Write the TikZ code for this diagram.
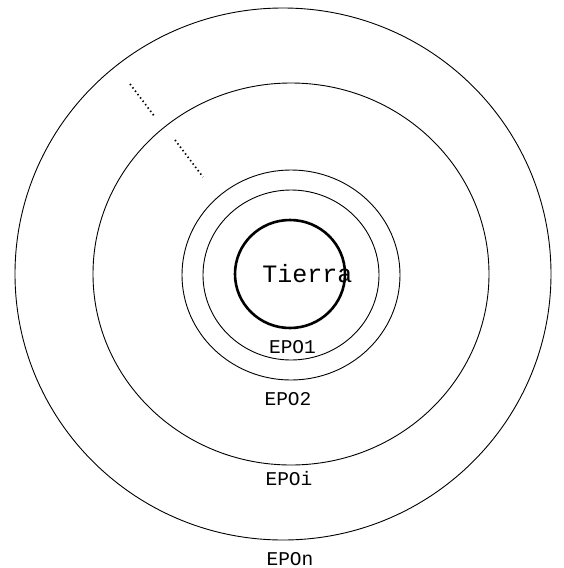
\documentclass[tikz,border=0pt]{standalone}
\usepackage{fontspec}
\setmonofont{Liberation Mono}
\begin{document}
\begin{tikzpicture}[x=1pt, y=-1pt,
    orbit/.style={line width=0.9pt},
    dots/.style={line width=1.7pt, dash pattern=on 1.4pt off 2.8pt},
    epolabel/.style={anchor=base, inner sep=0pt, font=\ttfamily\fontsize{19.5}{19.5}\selectfont}]
  \useasboundingbox (0,0) rectangle (563,568);

  % orbits, outermost first
  \draw[orbit] (283,274) ellipse [x radius=268, y radius=266];
  \draw[orbit] (291,274) ellipse [x radius=198, y radius=191];
  \draw[orbit] (291,275) ellipse [x radius=109, y radius=105];
  \draw[orbit] (291,275) ellipse [x radius=88, y radius=85];

  % earth
  \draw[line width=2.6pt] (290,274) ellipse [x radius=55, y radius=54];
  \node[anchor=base, inner sep=0pt, font=\ttfamily\fontsize{25}{25}\selectfont] (tierra) at (307.5,282) {Tierra};

  % orbit names
  \node[epolabel] (epo1) at (292.5,353) {EPO1};
  \node[epolabel] (epo2) at (288,405.5) {EPO2};
  \node[epolabel] (epoi) at (289,485.5) {EPOi};
  \node[epolabel] (epon) at (290,565.5) {EPOn};

  % dots between the orbits
  \draw[dots] (130,84) -- (155,117);
  \draw[dots] (175,140) -- (203,177);
\end{tikzpicture}
\end{document}
